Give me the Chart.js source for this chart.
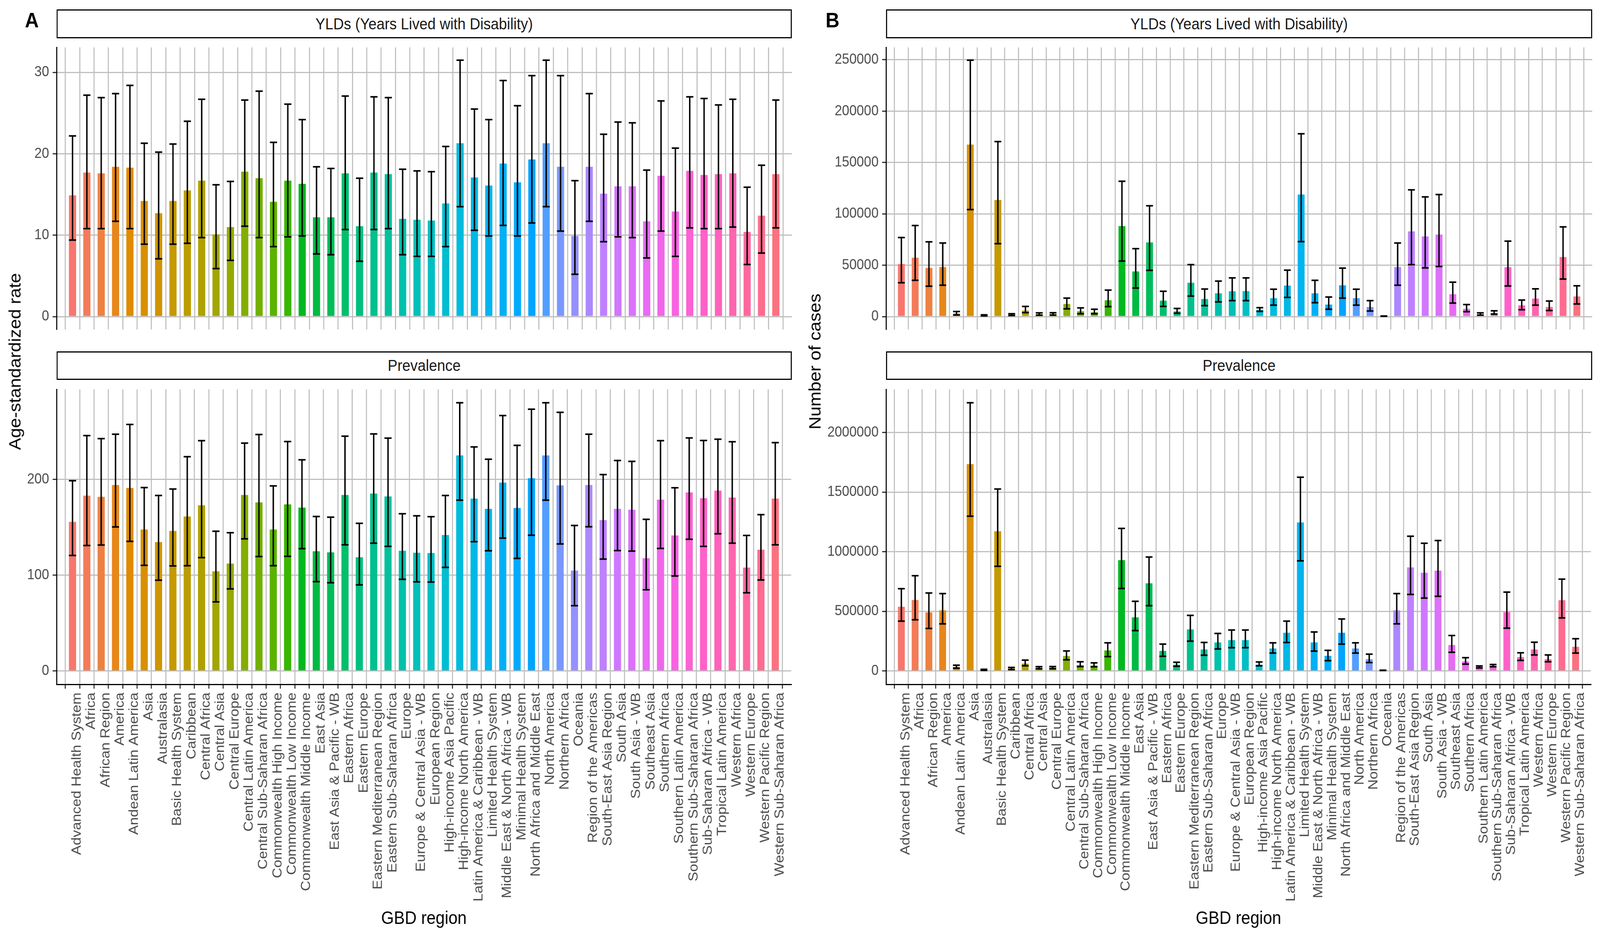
<!DOCTYPE html>
<html>
<head>
<meta charset="utf-8">
<script src="https://cdn.jsdelivr.net/npm/chart.js@4.4.1/dist/chart.umd.min.js"></script>
<style>
  html, body { margin: 0; padding: 0; background: #fff; overflow: hidden; }
  #page { position: relative; overflow: hidden; background: #fff; }
  #wrap { position: absolute; left: 0; top: 0; width: 4500px; height: 2400px; overflow: hidden; background: #fff;
          transform-origin: 0 0; font-family: 'Liberation Sans', Arial, sans-serif; }
  canvas { position: absolute; }
  .strip { position: absolute; box-sizing: border-box; border: 3.5px solid #000; background: #fff;
           display: flex; align-items: center; justify-content: center; font-size: 41px; color: #1a1a1a; }
  .ytitle { position: absolute; white-space: nowrap; font-size: 46px; color: #000;
            transform: translate(-50%, -50%) rotate(-90deg); }
  .tag { position: absolute; font-size: 54px; line-height: 54px; font-weight: bold; color: #000; }
</style>
</head>
<body>
<div id="page">
<div id="wrap">
  <canvas id="aTop" width="2235" height="786" style="left:0;top:89px"></canvas>
  <canvas id="aBot" width="2235" height="1436" style="left:0;top:964px"></canvas>
  <canvas id="bTop" width="2236" height="786" style="left:2250px;top:89px"></canvas>
  <canvas id="bBot" width="2236" height="1436" style="left:2250px;top:964px"></canvas>

  <div class="strip" style="left:159px;top:24px;width:2068px;height:74px">YLDs (Years Lived with Disability)</div>
  <div class="strip" style="left:159px;top:899px;width:2068px;height:73px">Prevalence</div>
  <div class="strip" style="left:2492px;top:24px;width:1986px;height:74px">YLDs (Years Lived with Disability)</div>
  <div class="strip" style="left:2492px;top:899px;width:1986px;height:73px">Prevalence</div>

  <div class="ytitle" style="left:42px;top:925px">Age-standardized rate</div>
  <div class="ytitle" style="left:2292px;top:925px">Number of cases</div>

  <div class="tag" style="left:70px;top:24px">A</div>
  <div class="tag" style="left:2322px;top:24px">B</div>
</div>
</div>
<script>
// the window is narrower than the 4500x2400 design (width is capped),
// so stretch the design to fill exactly what the browser gives us
const sx = window.innerWidth / 4500;
const sy = window.innerHeight / 2400;
const page = document.getElementById('page');
page.style.width = window.innerWidth + 'px';
page.style.height = window.innerHeight + 'px';
document.getElementById('wrap').style.transform = `scale(${sx}, ${sy})`;

const regions = [
  'Advanced Health System', 'Africa', 'African Region', 'America', 'Andean Latin America',
  'Asia', 'Australasia', 'Basic Health System', 'Caribbean', 'Central Africa',
  'Central Asia', 'Central Europe', 'Central Latin America', 'Central Sub-Saharan Africa', 'Commonwealth High Income',
  'Commonwealth Low Income', 'Commonwealth Middle Income', 'East Asia', 'East Asia & Pacific - WB', 'Eastern Africa',
  'Eastern Europe', 'Eastern Mediterranean Region', 'Eastern Sub-Saharan Africa', 'Europe', 'Europe & Central Asia - WB',
  'European Region', 'High-income Asia Pacific', 'High-income North America', 'Latin America & Caribbean - WB', 'Limited Health System',
  'Middle East & North Africa - WB', 'Minimal Health System', 'North Africa and Middle East', 'North America', 'Northern Africa',
  'Oceania', 'Region of the Americas', 'South-East Asia Region', 'South Asia', 'South Asia - WB',
  'Southeast Asia', 'Southern Africa', 'Southern Latin America', 'Southern Sub-Saharan Africa', 'Sub-Saharan Africa - WB',
  'Tropical Latin America', 'Western Africa', 'Western Europe', 'Western Pacific Region', 'Western Sub-Saharan Africa'
];

// panel A, YLDs: age-standardized rate
const yldRate   = [14.9, 17.7, 17.6, 18.4, 18.3, 14.2, 12.7, 14.2, 15.5, 16.7,
                   10.1, 11.0, 17.8, 17.0, 14.1, 16.7, 16.3, 12.2, 12.2, 17.6,
                   11.1, 17.7, 17.5, 12.0, 11.9, 11.8, 13.9, 21.3, 17.1, 16.1,
                   18.8, 16.5, 19.3, 21.3, 18.4, 9.9, 18.4, 15.1, 16.0, 16.0,
                   11.7, 17.3, 12.9, 17.9, 17.4, 17.5, 17.6, 10.4, 12.4, 17.5];
const yldRateLo = [9.4, 10.8, 10.8, 11.7, 10.8, 8.9, 7.1, 8.9, 9.0, 9.7,
                   5.9, 6.9, 11.1, 9.7, 8.6, 9.8, 9.9, 7.7, 7.6, 10.7,
                   6.8, 10.7, 10.8, 7.6, 7.4, 7.4, 8.6, 13.5, 10.6, 9.9,
                   11.2, 9.9, 11.5, 13.5, 10.5, 5.2, 11.7, 9.2, 9.8, 9.7,
                   7.2, 10.5, 7.4, 10.9, 10.8, 10.8, 11.0, 6.4, 7.8, 10.9];
const yldRateHi = [22.2, 27.2, 26.9, 27.4, 28.4, 21.3, 20.2, 21.2, 24.0, 26.7,
                   16.2, 16.6, 26.6, 27.7, 21.4, 26.1, 24.2, 18.4, 18.2, 27.1,
                   17.0, 27.0, 26.9, 18.1, 17.9, 17.8, 20.9, 31.5, 25.5, 24.2,
                   29.0, 25.9, 29.6, 31.5, 29.6, 16.7, 27.4, 22.4, 23.9, 23.8,
                   18.0, 26.5, 20.7, 27.0, 26.8, 26.0, 26.7, 15.9, 18.6, 26.6];

// panel A, prevalence: age-standardized rate
const prevRate   = [155.7, 183.1, 181.8, 194.2, 191.1, 147.7, 134.6, 146.2, 161.3, 173.1,
                    104.1, 112.1, 183.8, 176.0, 147.7, 174.0, 170.6, 125.0, 123.9, 183.8,
                    118.8, 185.3, 182.2, 125.5, 123.5, 123.2, 141.9, 225.1, 180.0, 169.3,
                    196.7, 170.2, 201.3, 225.1, 193.8, 104.8, 194.2, 157.5, 169.3, 168.4,
                    117.7, 178.9, 141.5, 186.4, 180.4, 188.4, 181.1, 107.9, 126.6, 180.0];
const prevRateLo = [120.6, 131.0, 131.5, 150.4, 135.3, 110.3, 94.8, 109.7, 109.9, 118.4,
                    72.1, 85.7, 137.9, 119.5, 109.9, 119.7, 127.7, 93.2, 92.1, 131.7,
                    89.9, 133.5, 130.1, 95.7, 93.0, 92.8, 108.1, 178.4, 135.0, 125.5,
                    138.8, 117.5, 141.7, 178.4, 132.6, 68.1, 150.6, 116.8, 125.7, 125.2,
                    84.8, 127.9, 99.2, 137.5, 130.1, 143.3, 133.5, 81.6, 95.0, 131.7];
const prevRateHi = [198.7, 245.8, 242.7, 247.2, 257.4, 191.5, 183.3, 190.0, 223.8, 240.5,
                    145.9, 144.4, 238.0, 246.9, 193.3, 239.6, 220.5, 161.3, 160.6, 245.2,
                    154.2, 247.6, 243.2, 164.2, 162.0, 161.1, 183.3, 280.1, 234.0, 221.1,
                    266.7, 235.6, 273.4, 280.1, 270.1, 151.9, 247.2, 205.1, 219.8, 218.9,
                    158.4, 240.5, 191.3, 243.4, 240.7, 242.0, 239.4, 141.5, 163.3, 238.5];

// panel B, YLDs: number of cases
const yldCases   = [51200, 57300, 47400, 48200, 3000, 167400, 1200, 113500, 2000, 5900,
                    2400, 2500, 12300, 5200, 4200, 15900, 88100, 43900, 72200, 15500,
                    5000, 32900, 17100, 22600, 24600, 24800, 6700, 17900, 30200, 118800,
                    22600, 11700, 30400, 17900, 9300, 400, 48200, 82900, 78000, 79800,
                    21800, 7500, 2200, 3400, 48000, 10900, 17500, 9300, 57900, 19600];
const yldCasesLo = [32900, 35300, 29600, 30500, 1500, 104200, 700, 71000, 1000, 3800,
                    1300, 1400, 7500, 2800, 2800, 9700, 54000, 27800, 45000, 9900,
                    3200, 20000, 10700, 14300, 15500, 15500, 5000, 11100, 18600, 73000,
                    13500, 7100, 18000, 11100, 5400, 300, 30500, 50600, 47400, 48800,
                    13100, 4800, 1400, 2400, 29800, 6700, 11100, 5900, 36500, 12300];
const yldCasesHi = [77000, 88700, 72800, 71600, 4900, 249600, 1700, 170400, 2800, 9900,
                    3600, 3700, 18000, 8500, 7100, 25800, 131700, 66100, 107900, 24600,
                    7900, 50600, 26800, 34500, 37700, 37700, 8700, 26600, 45200, 178000,
                    35300, 19000, 47200, 26600, 15500, 600, 71600, 123400, 116500, 118800,
                    33500, 11700, 3600, 5600, 73400, 16100, 27000, 15100, 87300, 30000];

// panel B, prevalence: number of cases
const prevCases   = [538000, 595000, 491000, 509000, 35000, 1735000, 10000, 1172000, 20000, 61000,
                     27000, 28000, 125000, 48000, 45000, 172000, 929000, 450000, 735000, 168000,
                     52000, 348000, 180000, 239000, 259000, 259000, 52000, 188000, 320000, 1246000,
                     239000, 127000, 320000, 188000, 98000, 5000, 509000, 869000, 824000, 842000,
                     218000, 79000, 34000, 44000, 493000, 116000, 180000, 98000, 593000, 202000];
const prevCasesLo = [418000, 429000, 356000, 395000, 23000, 1298000, 5000, 878000, 11000, 43000,
                     18000, 19000, 93000, 37000, 35000, 120000, 692000, 338000, 547000, 123000,
                     39000, 250000, 132000, 184000, 195000, 195000, 43000, 150000, 238000, 924000,
                     166000, 86000, 225000, 150000, 70000, 4000, 395000, 642000, 611000, 626000,
                     156000, 57000, 25000, 35000, 359000, 88000, 134000, 77000, 445000, 150000];
const prevCasesHi = [690000, 799000, 654000, 649000, 48000, 2250000, 14000, 1526000, 29000, 91000,
                     36000, 37000, 168000, 77000, 68000, 236000, 1196000, 584000, 956000, 225000,
                     73000, 466000, 239000, 315000, 343000, 343000, 75000, 236000, 418000, 1625000,
                     327000, 173000, 436000, 236000, 141000, 6000, 649000, 1130000, 1071000, 1094000,
                     297000, 111000, 42000, 54000, 661000, 152000, 241000, 134000, 770000, 270000];

const rateYldTicks   = [0, 10, 20, 30];
const ratePrevTicks  = [0, 100, 200];
const casesYldTicks  = [0, 50000, 100000, 150000, 200000, 250000];
const casesPrevTicks = [0, 500000, 1000000, 1500000, 2000000];

// ggplot2 default hue palette (HCL, c = 100, l = 65)
function hcl(h, c, l) {
  const hr = h * Math.PI / 180;
  const U = c * Math.cos(hr), V = c * Math.sin(hr);
  const Y = 100 * (l > 7.999592 ? Math.pow((l + 16) / 116, 3) : l / 903.3);
  const u = U / (13 * l) + 0.1978398, v = V / (13 * l) + 0.4683363;
  const X = 9 * Y * u / (4 * v);
  const Z = -X / 3 - 5 * Y + 3 * Y / v;
  const g = t => {
    t = t > 0.00304 ? 1.055 * Math.pow(t, 1 / 2.4) - 0.055 : 12.92 * t;
    return Math.round(255 * Math.min(1, Math.max(0, t)));
  };
  const r = g((3.240479 * X - 1.537150 * Y - 0.498535 * Z) / 100);
  const gg = g((-0.969256 * X + 1.875992 * Y + 0.041556 * Z) / 100);
  const b = g((0.055648 * X - 0.204043 * Y + 1.057311 * Z) / 100);
  return `rgb(${r},${gg},${b})`;
}
const colours = regions.map((_, i) => hcl(15 + 360 * i / regions.length, 100, 65));

Chart.defaults.font.family = "'Liberation Sans', Arial, sans-serif";

const errorBars = {
  id: 'errorBars',
  afterDatasetsDraw(chart, args, opts) {
    const { ctx, scales: { x, y } } = chart;
    const half = Math.abs(x.getPixelForValue(0.25) - x.getPixelForValue(0));
    ctx.save();
    ctx.strokeStyle = '#000';
    ctx.lineWidth = 4;
    opts.lo.forEach((lo, i) => {
      const px = x.getPixelForValue(i);
      const a = y.getPixelForValue(lo);
      const b = y.getPixelForValue(opts.hi[i]);
      ctx.beginPath();
      ctx.moveTo(px, a); ctx.lineTo(px, b);
      ctx.moveTo(px - half, a); ctx.lineTo(px + half, a);
      ctx.moveTo(px - half, b); ctx.lineTo(px + half, b);
      ctx.stroke();
    });
    ctx.restore();
  }
};

function facet(id, values, lo, hi, yTicks, yWidth, bottom) {
  const top = Math.max(...hi);
  new Chart(document.getElementById(id), {
    type: 'bar',
    data: {
      datasets: [{
        data: values.map((v, i) => ({ x: i, y: v })),
        backgroundColor: colours,
        borderWidth: 0,
        categoryPercentage: 1,
        barPercentage: 0.5
      }]
    },
    plugins: [errorBars],
    options: {
      responsive: false,
      devicePixelRatio: 1,
      animation: false,
      layout: { padding: { top: 10, right: 8, bottom: 0, left: 0 } },
      plugins: {
        legend: { display: false },
        tooltip: { enabled: false },
        errorBars: { lo: lo, hi: hi }
      },
      scales: {
        x: {
          type: 'linear',
          min: -0.6,
          max: regions.length - 0.4,
          afterBuildTicks: s => { s.ticks = regions.map((_, i) => ({ value: i })); },
          afterFit: s => { s.height = bottom ? 649 : 0; },
          grid: { color: '#bfbfbf', lineWidth: 3, drawTicks: bottom, tickLength: 11,
                  tickColor: '#333333', tickWidth: 3 },
          border: { display: bottom, color: '#000', width: 3 },
          ticks: {
            display: bottom, autoSkip: false, minRotation: 90, maxRotation: 90,
            padding: 10, labelOffset: 13, color: '#4d4d4d', font: { size: 37 },
            callback: v => regions[v]
          },
          title: { display: bottom, text: 'GBD region', color: '#000', font: { size: 46 },
                   padding: { top: 0, bottom: 21 } }
        },
        y: {
          min: -0.05 * top,
          max: 1.05 * top,
          afterBuildTicks: s => { s.ticks = yTicks.map(v => ({ value: v })); },
          afterFit: s => { s.width = yWidth; },
          grid: { color: '#bfbfbf', lineWidth: 3, tickLength: 11, tickColor: '#333333', tickWidth: 3 },
          border: { display: true, color: '#000', width: 3 },
          ticks: { padding: 10, color: '#4d4d4d', font: { size: 37 }, callback: v => String(v) }
        }
      }
    }
  });
}

facet('aTop', yldRate, yldRateLo, yldRateHi, rateYldTicks, 159, false);
facet('aBot', prevRate, prevRateLo, prevRateHi, ratePrevTicks, 159, true);
facet('bTop', yldCases, yldCasesLo, yldCasesHi, casesYldTicks, 242, false);
facet('bBot', prevCases, prevCasesLo, prevCasesHi, casesPrevTicks, 242, true);
</script>
</body>
</html>
